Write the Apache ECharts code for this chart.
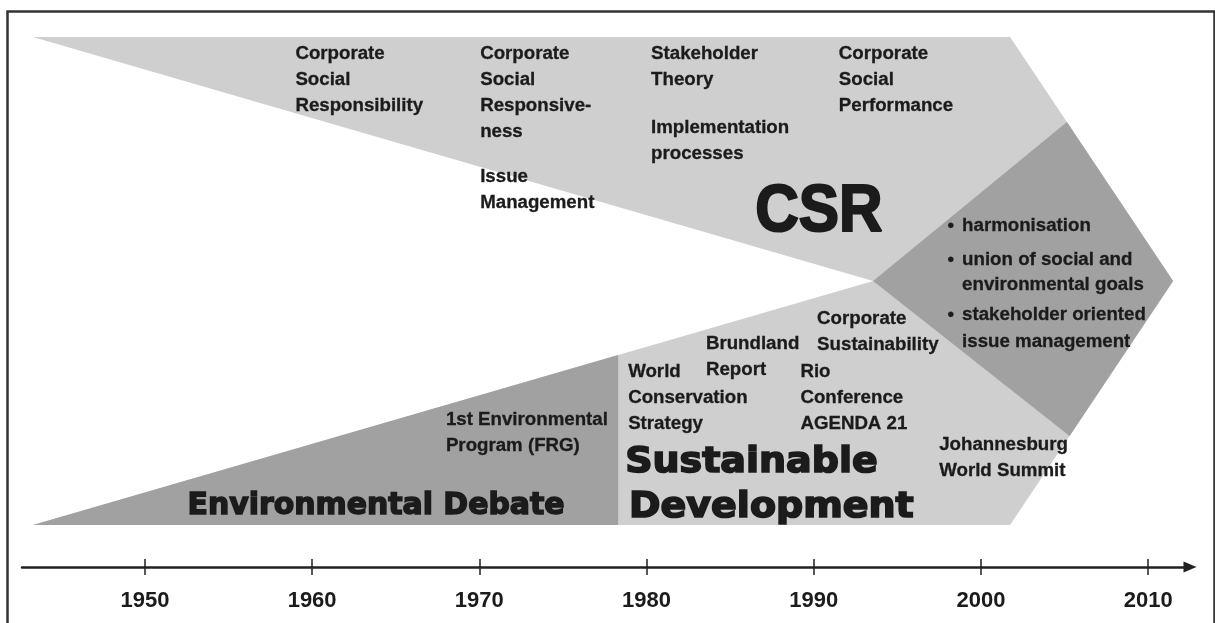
<!DOCTYPE html>
<html>
<head>
<meta charset="utf-8">
<script src="https://cdn.jsdelivr.net/npm/echarts@6/dist/echarts.min.js"></script>
<style>html,body{margin:0;padding:0;background:#fff;}#main{width:1215px;height:623px;}</style>
</head>
<body>
<div id="main"></div>
<script>
// ---- data (years on x, abstract level on y) ----
const tickYears = [1950, 1960, 1970, 1980, 1990, 2000, 2010];

// shapes: [year, level]
const discourseArrow = [[1943.3, 530], [2001.74, 530], [2011.49, 286], [2001.74, 42], [1943.3, 42], [1993.55, 286]];
const environmentalDebate = [[1943.3, 42], [1978.3, 212], [1978.3, 42]];
const convergence = [[1993.55, 286], [2005.14, 445], [2011.49, 286], [2005.3, 131]];

// topic labels: text, year (left edge), level (first line)
const csrTopicTexts = ['Corporate\nSocial\nResponsibility', 'Corporate\nSocial\nResponsive-\nness', 'Issue\nManagement', 'Stakeholder\nTheory', 'Implementation\nprocesses', 'Corporate\nSocial\nPerformance'];
const csrTopicYears = [1959.0, 1970.05, 1970.05, 1980.27, 1980.27, 1991.5];
const csrTopicLevels = [513, 513, 390, 513, 439, 513];

const sdTopicTexts = ['1st Environmental\nProgram (FRG)', 'World\nConservation\nStrategy', 'Brundland\nReport', 'Corporate\nSustainability', 'Rio\nConference\nAGENDA 21', 'Johannesburg\nWorld Summit'];
const sdTopicYears = [1968.0, 1978.9, 1983.55, 1990.2, 1989.2, 1997.5];
const sdTopicLevels = [147, 195, 223, 248, 195, 122];

const synthesisLines = ['harmonisation', 'union of social and', 'environmental goals', 'stakeholder oriented', 'issue management'];
const synthesisLevels = [341, 307, 282, 252, 225];
const synthesisBullets = [true, true, false, true, false];
const synthesisYear = 1998.87;
const bulletYear = 1998.0;

const titleTexts = ['CSR', 'Sustainable', 'Development', 'Environmental Debate'];
const titleYears = [1986.5, 1978.72, 1978.95, 1952.55];
const titleLevels = [354, 104, 59, 61];

// ---- styles ----
const LIGHT = '#cfcfcf', DARK = '#a1a1a1', INK = '#1b1b1b';
const shapes = [
  { pts: discourseArrow, fill: LIGHT },
  { pts: environmentalDebate, fill: DARK },
  { pts: convergence, fill: DARK }
];
const titleKinds = ['csr', 'heavyBig', 'heavyBig', 'heavy'];
const labels = [];
csrTopicTexts.forEach((t, i) => labels.push({ t, x: csrTopicYears[i], y: csrTopicLevels[i], k: 'topic' }));
sdTopicTexts.forEach((t, i) => labels.push({ t, x: sdTopicYears[i], y: sdTopicLevels[i], k: 'topic' }));
synthesisLines.forEach((t, i) => {
  labels.push({ t, x: synthesisYear, y: synthesisLevels[i], k: 'topic' });
  if (synthesisBullets[i]) labels.push({ t: '•', x: bulletYear, y: synthesisLevels[i], k: 'topic' });
});
titleTexts.forEach((t, i) => labels.push({ t, x: titleYears[i], y: titleLevels[i], k: titleKinds[i] }));

const styleByKind = {
  topic: { font: 'bold 18.7px "Liberation Sans", Arial, sans-serif', lh: 26, sx: 1, sy: 1, sw: 0.3 },
  csr: { font: 'bold 67px "Liberation Sans", Arial, sans-serif', lh: 70, sx: 0.9, sy: 1, sw: 2.2 },
  heavyBig: { font: 'bold 38px "DejaVu Sans", sans-serif', lh: 42, sx: 1, sy: 0.92, sw: 1.8 },
  heavy: { font: 'bold 29.9px "DejaVu Sans", sans-serif', lh: 34, sx: 1, sy: 1, sw: 1.5 }
};

const chart = echarts.init(document.getElementById('main'), null, { renderer: 'canvas' });
const axisBase = {
  type: 'value', min: 1942.65, max: 2012.5, gridIndex: 0, position: 'bottom',
  splitLine: { show: false }
};
chart.setOption({
  backgroundColor: '#ffffff',
  animation: false,
  grid: { left: 22, top: 37, width: 1168, height: 530 },
  xAxis: [
    Object.assign({}, axisBase, {
      axisLine: { show: true, lineStyle: { color: '#222', width: 2.5 }, symbol: ['none', 'triangle'], symbolSize: [11, 13] },
      axisTick: { show: true, inside: false, length: 8, lineStyle: { color: '#222', width: 1.5 }, customValues: tickYears },
      axisLabel: { show: true, customValues: tickYears, margin: 23, color: INK, fontSize: 22, fontWeight: 'bold', fontFamily: '"Liberation Sans", Arial, sans-serif', formatter: v => String(Math.round(v)) }
    }),
    Object.assign({}, axisBase, {
      axisLine: { show: false },
      axisTick: { show: true, inside: true, length: 8, lineStyle: { color: '#222', width: 1.5 }, customValues: tickYears },
      axisLabel: { show: false }
    })
  ],
  yAxis: { type: 'value', min: 0, max: 530, show: false },
  series: [
    {
      type: 'custom', silent: true, clip: false,
      data: shapes.map((s, i) => [s.pts[0][0], s.pts[0][1], i]),
      renderItem: (params, api) => {
        const s = shapes[params.dataIndex];
        return { type: 'polygon', shape: { points: s.pts.map(p => api.coord(p)) }, style: { fill: s.fill, stroke: null } };
      }
    },
    {
      type: 'custom', silent: true, clip: false,
      data: labels.map((l, i) => [l.x, l.y, i]),
      renderItem: (params, api) => {
        const l = labels[params.dataIndex];
        const st = styleByKind[l.k];
        const p = api.coord([l.x, l.y]);
        const multi = l.t.indexOf('\n') >= 0;
        return {
          type: 'text', x: p[0], y: multi ? p[1] - st.lh / 2 : p[1], scaleX: st.sx, scaleY: st.sy,
          style: { text: l.t, font: st.font, fill: INK, stroke: INK, lineWidth: st.sw, align: 'left', verticalAlign: multi ? 'top' : 'middle', lineHeight: st.lh }
        };
      }
    }
  ],
  graphic: [
    { type: 'rect', left: 5, top: 9, shape: { width: 1207, height: 700 }, style: { fill: 'none', stroke: '#333', lineWidth: 2.5 }, silent: true }
  ]
});
</script>
</body>
</html>
